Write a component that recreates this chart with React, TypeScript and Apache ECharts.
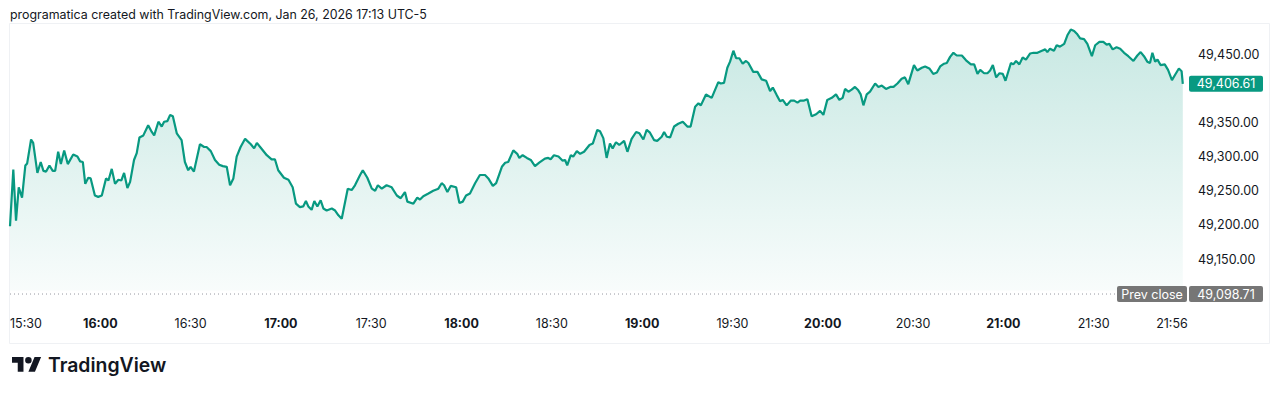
import React, { useEffect, useRef } from "react";
import * as echarts from "echarts";

// minutes since 15:30 (session start) and price at that moment
const minutes = [
  0.0, 1.1, 2.0, 2.9, 4.0, 5.1, 5.7, 7.0, 7.7, 9.1, 10.2, 11.1, 12.0, 13.1, 14.2, 15.0, 16.0, 16.9, 18.0, 19.2,
  21.0, 22.4, 23.3, 24.2, 25.0, 26.0, 26.8, 28.2, 29.3, 30.5, 31.9, 32.7, 33.8, 34.9, 36.0, 37.0, 37.9, 39.0, 39.9,
  41.2, 42.1, 43.0, 44.3, 45.9, 47.1, 47.9, 49.3, 50.4, 51.2, 52.3, 53.2, 54.1, 55.4, 57.0, 58.1, 59.2, 60.0, 61.1,
  63.1, 64.5, 65.3, 66.7, 68.1, 69.5, 70.7, 72.0, 73.1, 74.2, 75.3, 76.6, 78.1, 78.8, 80.0, 81.1, 82.0, 83.3, 85.3,
  86.9, 88.0, 89.1, 91.0, 92.5, 93.9, 95.0, 96.3, 97.4, 98.3, 99.1, 100.2, 101.1, 102.1, 103.2, 104.1, 105.2, 106.9,
  108.0, 109.1, 110.2, 112.2, 113.5, 114.6, 116.3, 117.2, 118.7, 120.2, 121.3, 122.2, 123.5, 125.1, 126.8, 128.5,
  129.8, 131.2, 132.0, 134.0, 135.3, 136.2, 137.3, 139.0, 140.6, 142.3, 143.4, 144.2, 145.3, 146.4, 148.2, 149.3,
  150.4, 151.5, 152.8, 154.5, 156.1, 157.8, 158.9, 160.4, 161.5, 163.4, 164.5, 165.5, 167.2, 168.5, 169.2, 170.3,
  171.7, 173.0, 174.4, 175.8, 177.7, 178.8, 179.6, 180.7, 182.2, 183.6, 184.4, 185.1, 186.3, 187.1, 188.3, 189.4,
  190.7, 192.5, 193.6, 195.1, 196.0, 197.1, 198.2, 199.3, 200.2, 201.3, 202.4, 204.0, 205.1, 206.5, 208.0, 209.1,
  210.4, 211.5, 212.6, 214.0, 215.0, 216.5, 217.3, 218.2, 219.3, 220.6, 222.0, 223.5, 225.0, 226.1, 227.6, 228.7,
  229.5, 231.2, 233.1, 235.3, 236.1, 237.2, 238.3, 239.2, 240.3, 241.2, 242.3, 243.4, 244.5, 245.3, 246.9, 248.3,
  249.7, 251.2, 252.5, 253.4, 254.7, 255.8, 256.7, 258.0, 259.4, 260.5, 261.6, 262.5, 263.8, 264.9, 266.3, 267.8,
  269.1, 270.2, 271.5, 273.0, 274.4, 275.5, 276.6, 277.4, 278.5, 279.6, 280.7, 281.8, 282.6, 283.5, 284.6, 285.7,
  287.4, 288.5, 289.6, 291.0, 292.4, 293.5, 294.8, 296.2, 297.3, 298.4, 300.3, 301.4, 302.9, 304.0, 305.4, 306.7,
  307.9, 309.0, 310.3, 311.2, 312.3, 313.4, 314.5, 316.2, 317.6, 319.2, 320.3, 321.4, 322.3, 323.6, 324.7, 325.6,
  326.5, 327.6, 328.7, 329.8, 330.7, 332.5, 333.3, 334.2, 335.3, 336.4, 337.5, 338.9, 340.0, 341.3, 342.8, 343.9,
  344.6, 345.5, 346.8, 347.7, 348.8, 350.2, 351.3, 352.4, 353.5, 354.4, 355.5, 356.8, 357.9, 359.4, 360.5, 361.9,
  363.2, 364.3, 365.2, 366.3, 367.6, 368.8, 370.1, 371.5, 373.2, 374.5, 375.6, 376.7, 377.8, 378.7, 379.5, 380.4,
  381.2, 382.2, 383.6, 384.7, 386.0, 387.2, 388.3, 389.2, 389.6,
];

const prices = [
  49198, 49281, 49206, 49255, 49240, 49287, 49290, 49325, 49320, 49276, 49292, 49279, 49278, 49287, 49279, 49279, 49307, 49289, 49309, 49289,
  49303, 49300, 49293, 49292, 49260, 49269, 49268, 49243, 49241, 49243, 49268, 49265, 49282, 49260, 49266, 49265, 49276, 49254, 49263,
  49295, 49305, 49328, 49331, 49346, 49336, 49331, 49351, 49344, 49351, 49352, 49361, 49359, 49334, 49324, 49292, 49280, 49285, 49278,
  49318, 49314, 49314, 49308, 49295, 49288, 49286, 49285, 49258, 49268, 49300, 49314, 49326, 49323, 49318, 49312, 49320, 49313, 49302,
  49296, 49296, 49280, 49269, 49266, 49255, 49231, 49226, 49227, 49235, 49227, 49222, 49235, 49227, 49236, 49224, 49221, 49224,
  49221, 49214, 49209, 49253, 49251, 49258, 49273, 49280, 49269, 49253, 49250, 49258, 49253, 49258, 49255, 49243,
  49239, 49248, 49234, 49231, 49240, 49237, 49242, 49246, 49250, 49253, 49261, 49258, 49248, 49257, 49255, 49232,
  49234, 49243, 49246, 49261, 49273, 49273, 49268, 49257, 49261, 49285, 49291, 49292, 49309, 49304, 49298, 49302,
  49298, 49295, 49286, 49291, 49297, 49298, 49296, 49302, 49300, 49294, 49295, 49287, 49302, 49300, 49308, 49304,
  49307, 49317, 49319, 49339, 49337, 49327, 49298, 49319, 49312, 49321, 49317, 49323, 49307, 49326, 49336, 49334,
  49325, 49339, 49335, 49324, 49323, 49329, 49336, 49329, 49328, 49344, 49348, 49351, 49344, 49344, 49373, 49378,
  49375, 49391, 49386, 49409, 49407, 49408, 49430, 49439, 49455, 49444, 49444, 49436, 49440, 49437, 49424, 49424,
  49413, 49411, 49396, 49401, 49390, 49381, 49383, 49375, 49382, 49382, 49379, 49382, 49382, 49384, 49359, 49362,
  49367, 49361, 49383, 49386, 49391, 49383, 49386, 49399, 49395, 49398, 49402, 49397, 49391, 49375, 49391, 49395,
  49407, 49402, 49404, 49399, 49402, 49402, 49407, 49414, 49416, 49406, 49434, 49426, 49430, 49432, 49429, 49421,
  49423, 49432, 49436, 49437, 49446, 49452, 49448, 49448, 49441, 49435, 49435, 49421, 49427, 49422, 49422, 49426,
  49434, 49416, 49422, 49421, 49411, 49437, 49435, 49440, 49435, 49445, 49442, 49451, 49452, 49452, 49455, 49457,
  49453, 49458, 49455, 49463, 49461, 49465, 49478, 49486, 49484, 49480, 49473, 49472, 49465, 49447, 49463, 49468,
  49468, 49464, 49465, 49457, 49460, 49458, 49452, 49447, 49440, 49448, 49453, 49447, 49439, 49437, 49452, 49439,
  49442, 49434, 49435, 49427, 49412, 49421, 49429, 49425, 49406.61,
];

const SESSION_START = 15 * 60 + 30; // 15:30
const SESSION_LENGTH = 390; // minutes, to 22:00
const timeTicks = [0, 30, 60, 90, 120, 150, 180, 210, 240, 270, 300, 330, 360, 386];
const priceTicks = [49150, 49200, 49250, 49300, 49350, 49450];
const prevClose = 49098.71;
const priceMin = 49080;
const priceMax = 49500;

const headerText = "programatica created with TradingView.com, Jan 26, 2026 17:13 UTC-5";

const GREEN = "#089981";
const TEXT = "#131722";
const GRAY_BOX = "#767676";
const FONT = "Inter, 'Noto Sans', sans-serif";

const LOGO_PATH =
  "M14 22H7V11H0V4h14v18zM28 22h-8l7.5-18h8L28 22zM24 8a4 4 0 1 1 -8 0a4 4 0 1 1 8 0z";

function fmtTime(m: number): string {
  const t = SESSION_START + Math.round(m);
  const h = Math.floor(t / 60);
  const mm = t % 60;
  return `${h}:${String(mm).padStart(2, "0")}`;
}

function fmtPrice(v: number): string {
  const [i, d] = v.toFixed(2).split(".");
  return `${i.replace(/\B(?=(\d{3})+(?!\d))/g, ",")}.${d}`;
}

let registered = false;

export default function App() {
  const ref = useRef<HTMLDivElement>(null);

  useEffect(() => {
    document.body.style.margin = "0";
    if (!registered) {
      echarts.graphic.registerShape("tvlogo", echarts.graphic.extendPath(LOGO_PATH, {}) as any);
      registered = true;
    }
    const chart = echarts.init(ref.current!, undefined, { renderer: "svg" });
    const data = minutes.map((m, i) => [m, prices[i]]);

    chart.setOption({
      animation: false,
      grid: { left: 10, right: 96, top: 20, bottom: 87.2, containLabel: false },
      xAxis: {
        type: "value",
        min: 0,
        max: SESSION_LENGTH,
        axisLine: { show: false },
        axisTick: { show: false },
        splitLine: { show: false },
        axisLabel: {
          customValues: timeTicks,
          margin: 10,
          alignMinLabel: "left",
          formatter: (v: number) => {
            const s = fmtTime(v);
            return s.endsWith(":00") ? `{b|${s}}` : `{n|${s}}`;
          },
          rich: {
            b: { fontFamily: FONT, fontSize: 12.5, fontWeight: 700, color: TEXT },
            n: { fontFamily: FONT, fontSize: 12.5, fontWeight: 400, color: TEXT },
          },
        },
      },
      yAxis: {
        type: "value",
        position: "right",
        min: priceMin,
        max: priceMax,
        axisLine: { show: false },
        axisTick: { show: false },
        splitLine: { show: false },
        axisLabel: {
          customValues: priceTicks,
          margin: 14,
          fontFamily: FONT,
          fontSize: 12.5,
          color: TEXT,
          formatter: (v: number) => fmtPrice(v),
        },
      },
      series: [
        {
          type: "line",
          data,
          showSymbol: false,
          symbol: "none",
          lineStyle: { color: GREEN, width: 2.2 },
          areaStyle: {
            origin: 49104,
            color: new echarts.graphic.LinearGradient(0, 0, 0, 1, [
              { offset: 0, color: "rgba(8,153,129,0.32)" },
              { offset: 1, color: "rgba(8,153,129,0.04)" },
            ]),
          },
        },
      ],
    });

    const last = minutes.length - 1;
    const [, yLast] = chart.convertToPixel({ gridIndex: 0 }, [minutes[last], prices[last]]) as number[];
    const [, yPrev] = chart.convertToPixel({ gridIndex: 0 }, [0, prevClose]) as number[];

    const boxText = (x: number, y: number, text: string) => ({
      type: "text",
      z: 11,
      style: {
        x,
        y,
        text,
        fill: "#ffffff",
        font: `400 12.5px ${FONT}`,
        align: "center",
        verticalAlign: "middle",
        textAlign: "center",
        textVerticalAlign: "middle",
      },
    });

    chart.setOption({
      graphic: [
        {
          type: "rect",
          z: 1,
          silent: true,
          shape: { x: 9.5, y: 23.5, width: 1260, height: 320 },
          style: { fill: "none", stroke: "#eff1f4", lineWidth: 1 },
        },
        {
          type: "text",
          style: {
            x: 10,
            y: 14,
            text: headerText,
            fill: TEXT,
            font: `400 12.4px ${FONT}`,
            verticalAlign: "middle",
            textVerticalAlign: "middle",
          },
        },
        {
          type: "line",
          z: 5,
          shape: { x1: 10, y1: yPrev, x2: 1116, y2: yPrev },
          style: { stroke: "#9598a1", lineWidth: 1, lineDash: [1, 3] },
        },
        {
          type: "rect",
          z: 10,
          shape: { x: 1117, y: yPrev - 8, width: 70, height: 16, r: 2 },
          style: { fill: GRAY_BOX },
        },
        boxText(1152, yPrev, "Prev close"),
        {
          type: "rect",
          z: 10,
          shape: { x: 1189, y: yPrev - 8, width: 74, height: 16, r: 2 },
          style: { fill: GRAY_BOX },
        },
        boxText(1226, yPrev, fmtPrice(prevClose)),
        {
          type: "rect",
          z: 10,
          shape: { x: 1189, y: yLast - 8, width: 74, height: 16, r: 2 },
          style: { fill: GREEN },
        },
        boxText(1226, yLast, fmtPrice(prices[last])),
        {
          type: "tvlogo",
          x: 12,
          y: 353.7,
          scaleX: 0.82,
          scaleY: 0.82,
          style: { fill: TEXT },
        },
        {
          type: "text",
          style: {
            x: 48,
            y: 365,
            text: "TradingView",
            fill: TEXT,
            font: `600 19.4px ${FONT}`,
            verticalAlign: "middle",
            textVerticalAlign: "middle",
          },
        },
      ],
    });

    return () => chart.dispose();
  }, []);

  return <div ref={ref} style={{ width: 1280, height: 394 }} />;
}
